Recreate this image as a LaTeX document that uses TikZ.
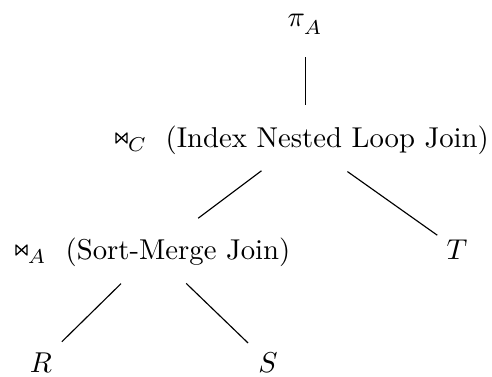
\documentclass[tikz,border=0pt]{standalone}
\usetikzlibrary{calc}
\begin{document}
\begin{tikzpicture}[x=0.3484pt,y=-0.3484pt,
  lbl/.style={anchor=base,inner sep=0pt},
  joinlbl/.style={anchor=base west,inner sep=0pt},
  edge/.style={draw=black,line width=0.4pt},
  bowtie/.pic={\draw[line width=0.45pt,line join=round] (0,-4) -- (0,-14) -- (11,-4) -- (11,-14) -- cycle;}]
\useasboundingbox (0,0) rectangle (492,376);
\node[anchor=base west,inner sep=0pt] (pi) at (287,26) {$\pi_{\raisebox{-1.5pt}{$\scriptstyle A$}}$};
\node[joinlbl] (C) at (116,147) {\makebox[17.1pt][l]{\hspace{3.9pt}$_{C}$}(Index Nested Loop Join)};
\node[joinlbl] (A) at (16,259) {\makebox[17.1pt][l]{\hspace{3.9pt}$_{A}$}(Sort-Merge Join)};
\node[lbl] (T) at (457,259) {$T$};
\node[lbl] (R) at (41,372) {$R$};
\node[lbl] (S) at (268,372) {$S$};
\pic at (C.base west) {bowtie};
\pic at (A.base west) {bowtie};
\draw[edge] ($(pi)!0.285!(pi|-C)$) -- ($(pi)!0.70!(pi|-C)$);
\draw[edge] ($(C)!0.276!(A)$) -- ($(C)!0.70!(A)$);
\draw[edge] ($(C)!0.29!(T)$) -- ($(C)!0.872!(T)$);
\draw[edge] ($(A)!0.288!(R)$) -- ($(A)!0.815!(R)$);
\draw[edge] ($(A)!0.286!(S)$) -- ($(A)!0.826!(S)$);
\end{tikzpicture}
\end{document}
